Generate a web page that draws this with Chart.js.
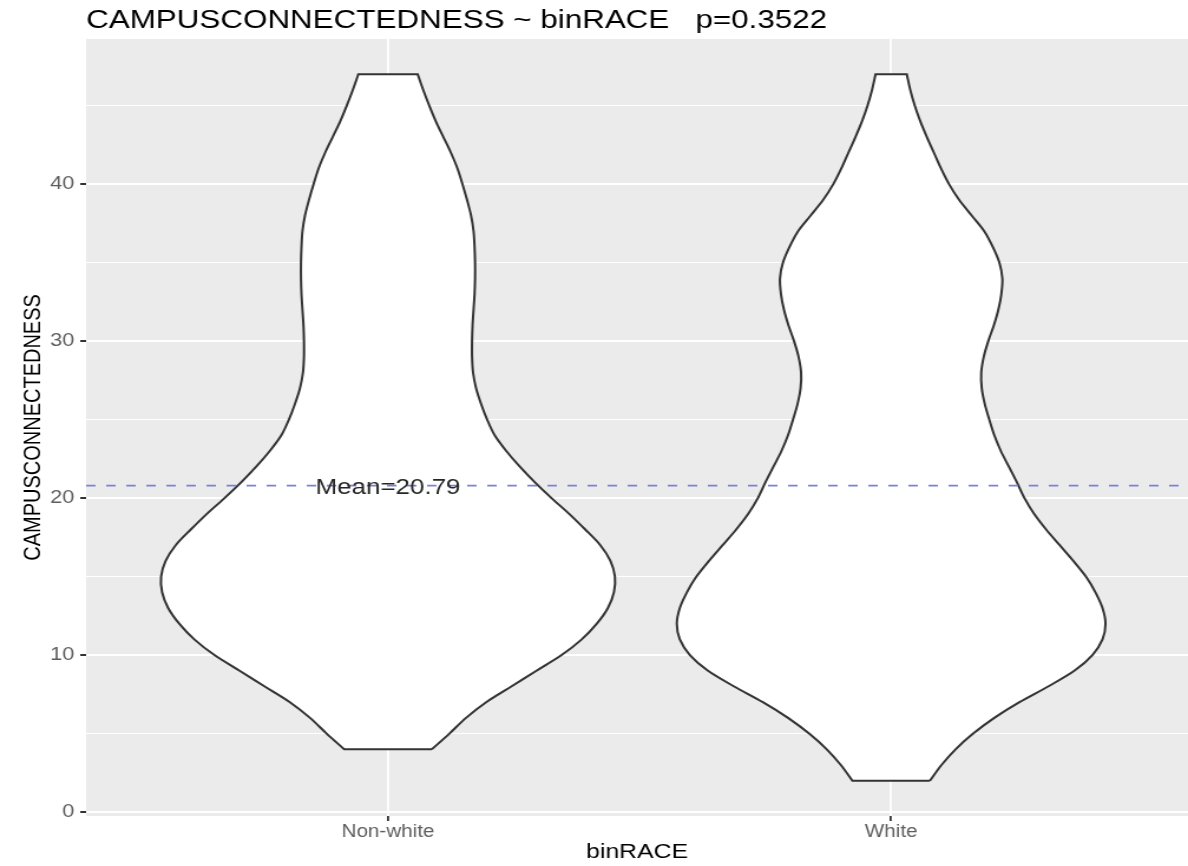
<!DOCTYPE html>
<html>
<head>
<meta charset="utf-8">
<title>CAMPUSCONNECTEDNESS ~ binRACE</title>
<script src="https://cdn.jsdelivr.net/npm/chart.js@4/dist/chart.umd.min.js"></script>
<style>
  html, body { margin: 0; padding: 0; background: #ffffff; }
  canvas { display: block; }
</style>
</head>
<body>
<!-- drawn on a narrower canvas and stretched to the page width -->
<canvas id="violinChart" width="1007" height="866" style="width:1188px;height:866px"></canvas>
<script>
const categories = ["Non-white", "White"];
const meanValue = 20.79;
const pValue = "0.3522";

// y gridlines: labelled majors and thin minors
const yMajor = [0, 10, 20, 30, 40];
const yMinor = [5, 15, 25, 35, 45];

// violin outlines: score levels and the half width at each level (in category units)
const nonWhiteLevels = [4, 5, 6, 7, 8, 9, 10, 11, 12, 13, 14, 15, 16, 17, 18, 19, 20, 21, 22, 23, 24, 25, 26, 27, 28, 29, 30, 31, 32, 33, 34, 35, 36, 37, 38, 39, 40, 41, 42, 43, 44, 45, 46, 47];
const nonWhiteHalfWidth = [0.087, 0.122, 0.155, 0.195, 0.245, 0.295, 0.345, 0.385, 0.415, 0.437, 0.449, 0.451, 0.442, 0.422, 0.392, 0.36, 0.325, 0.292, 0.262, 0.235, 0.212, 0.197, 0.185, 0.175, 0.169, 0.167, 0.167, 0.168, 0.17, 0.172, 0.173, 0.173, 0.172, 0.17, 0.165, 0.157, 0.148, 0.138, 0.125, 0.11, 0.095, 0.082, 0.07, 0.059];

const whiteLevels = [2, 3, 4, 5, 6, 7, 8, 9, 10, 11, 12, 13, 14, 15, 16, 17, 18, 19, 20, 21, 22, 23, 24, 25, 26, 27, 28, 29, 30, 31, 32, 33, 34, 35, 36, 37, 38, 39, 40, 41, 42, 43, 44, 45, 46, 47];
const whiteHalfWidth = [0.077, 0.1, 0.128, 0.163, 0.205, 0.255, 0.312, 0.364, 0.4, 0.42, 0.426, 0.42, 0.406, 0.387, 0.362, 0.335, 0.308, 0.284, 0.265, 0.25, 0.234, 0.218, 0.205, 0.195, 0.186, 0.18, 0.179, 0.184, 0.193, 0.204, 0.213, 0.219, 0.221, 0.215, 0.202, 0.185, 0.16, 0.135, 0.115, 0.099, 0.085, 0.071, 0.058, 0.047, 0.038, 0.031];

const xMin = 0.4;
const xMax = 2.59;

Chart.defaults.font.family = "'Liberation Sans', Arial, Helvetica, sans-serif";

// closed polygon: right side bottom->top, then left side top->bottom.
// corner points are doubled so the curve keeps sharp corners at the flat ends
function violinOutline(center, levels, halfWidths) {
  const right = levels.map((y, i) => ({ x: center + halfWidths[i], y: y }));
  const left = levels.map((y, i) => ({ x: center - halfWidths[i], y: y })).reverse();
  const topRight = right[right.length - 1];
  const bottomLeft = left[left.length - 1];
  return right.concat([topRight, left[0]], left, [bottomLeft, right[0]]);
}

// grey panel behind the grid
const panelBackground = {
  id: "panelBackground",
  beforeDraw(chart) {
    const { ctx, chartArea } = chart;
    ctx.save();
    ctx.fillStyle = "#ebebeb";
    ctx.fillRect(chartArea.left, chartArea.top, chartArea.right - chartArea.left, chartArea.bottom - chartArea.top);
    ctx.restore();
  },
};

// text sitting on the mean line
const meanLabel = {
  id: "meanLabel",
  afterDatasetsDraw(chart) {
    const { ctx, scales } = chart;
    ctx.save();
    ctx.font = "22px 'Liberation Sans', Arial, sans-serif";
    ctx.fillStyle = "#262626";
    ctx.textAlign = "center";
    ctx.textBaseline = "middle";
    ctx.fillText("Mean=" + meanValue, scales.x.getPixelForValue(1), scales.y.getPixelForValue(meanValue) + 2);
    ctx.restore();
  },
};

function makeChart() {
  const ctx = document.getElementById("violinChart");

  const violinStyle = {
    type: "line",
    backgroundColor: "#ffffff",
    borderColor: "#333333",
    borderWidth: 2,
    pointRadius: 0,
    tension: 0.3,
    fill: "shape",
    order: 2,
  };

  new Chart(ctx, {
    type: "line",
    data: {
      datasets: [
        {
          label: "Mean",
          data: [
            { x: xMin, y: meanValue },
            { x: xMax, y: meanValue },
          ],
          borderColor: "#7a82d6",
          borderWidth: 1.8,
          borderDash: [8, 9],
          pointRadius: 0,
          fill: false,
          order: 0,
        },
        Object.assign({ label: categories[0], data: violinOutline(1, nonWhiteLevels, nonWhiteHalfWidth) }, violinStyle),
        Object.assign({ label: categories[1], data: violinOutline(2, whiteLevels, whiteHalfWidth) }, violinStyle),
      ],
    },
    options: {
      responsive: false,
      animation: false,
      layout: { padding: 0 },
      plugins: {
        legend: { display: false },
        tooltip: { enabled: false },
        title: {
          display: true,
          text: "CAMPUSCONNECTEDNESS ~ binRACE   p=" + pValue,
          align: "start",
          fullSize: false,
          color: "#000000",
          font: { size: 26.6, weight: "normal" },
          padding: { top: 5, bottom: 2 },
        },
      },
      scales: {
        x: {
          type: "linear",
          min: xMin,
          max: xMax,
          afterBuildTicks: (axis) => {
            axis.ticks = categories.map((c, i) => ({ value: i + 1 }));
          },
          afterFit: (axis) => {
            axis.height = 50;
          },
          ticks: {
            callback: (value) => categories[value - 1],
            color: "#5e5e5e",
            font: { size: 17.5 },
            padding: 1,
            maxRotation: 0,
            autoSkip: false,
          },
          grid: {
            color: "#ffffff",
            lineWidth: 1.8,
            tickColor: "#333333",
            tickLength: 5,
          },
          border: { display: false },
          title: {
            display: true,
            text: "binRACE",
            color: "#000000",
            font: { size: 21 },
            padding: { top: 0, bottom: 1 },
          },
        },
        y: {
          type: "linear",
          min: -0.25,
          max: 49.25,
          afterBuildTicks: (axis) => {
            axis.ticks = yMajor.concat(yMinor).sort((a, b) => a - b).map((v) => ({ value: v }));
          },
          afterFit: (axis) => {
            axis.width = 73;
          },
          ticks: {
            callback: (value) => (yMajor.includes(value) ? value : ""),
            color: "#5e5e5e",
            font: { size: 18.5 },
            padding: 5,
          },
          grid: {
            color: "#ffffff",
            lineWidth: (c) => (yMajor.includes(c.tick.value) ? 2 : 1),
            tickColor: (c) => (yMajor.includes(c.tick.value) ? "#333333" : "rgba(0,0,0,0)"),
            tickLength: 5,
          },
          border: { display: false },
          title: {
            display: true,
            text: "CAMPUSCONNECTEDNESS",
            color: "#000000",
            font: { size: 20 },
            padding: { top: 16, bottom: 0 },
          },
        },
      },
    },
    plugins: [panelBackground, meanLabel],
  });
}

makeChart();
</script>
</body>
</html>
